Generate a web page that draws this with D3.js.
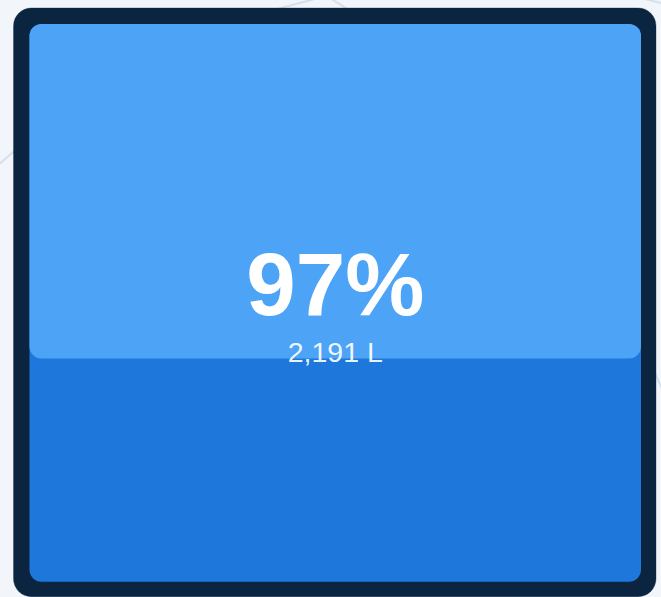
<!DOCTYPE html>
<html>
<head>
<meta charset="utf-8">
<script src="https://cdn.jsdelivr.net/npm/d3@7"></script>
<style>
  html, body { margin: 0; padding: 0; background: #f2f5fa; }
  svg { display: block; }
</style>
</head>
<body>
<script>
  var w = 661;
  var h = 597;

  // values
  var percentValues = [97];
  var volumeValues = [2191];
  var unitLabels = ["L"];
  var levelValues = [0.4];   // share of the tank drawn in the darker colour

  var tank = { left: 13.5, top: 8, right: 656, bottom: 596.7, border: 16 };

  var svg = d3.select("body")
    .append("svg")
    .attr("width", w)
    .attr("height", h);

  // faint background arcs
  var arcs = svg.append("g")
    .attr("fill", "none")
    .attr("stroke", "#d5e0ee")
    .attr("stroke-width", 2);
  arcs.append("circle").attr("cx", 480).attr("cy", 700).attr("r", 720);
  arcs.append("circle").attr("cx", -100).attr("cy", 700).attr("r", 823);

  // tank frame
  svg.append("rect")
    .attr("x", tank.left)
    .attr("y", tank.top)
    .attr("width", tank.right - tank.left)
    .attr("height", tank.bottom - tank.top)
    .attr("rx", 18)
    .attr("fill", "#0b2540")
    .attr("stroke", "rgba(11,37,64,0.35)")
    .attr("stroke-width", 1);

  var inner = {
    left: tank.left + tank.border,
    top: tank.top + tank.border,
    right: tank.right - tank.border + 1,
    bottom: tank.bottom - tank.border + 1
  };

  var yScale = d3.scaleLinear()
    .domain([0, 1])
    .range([inner.bottom, inner.top]);

  // liquid
  svg.append("rect")
    .attr("x", inner.left)
    .attr("y", inner.top)
    .attr("width", inner.right - inner.left)
    .attr("height", inner.bottom - inner.top)
    .attr("rx", 12)
    .attr("fill", "#1e78dc");

  // upper part
  svg.selectAll("rect.upper")
    .data(levelValues)
    .enter()
    .append("rect")
    .attr("class", "upper")
    .attr("x", inner.left)
    .attr("y", yScale(1))
    .attr("width", inner.right - inner.left)
    .attr("height", function (d) { return yScale(d) - yScale(1); })
    .attr("rx", 12)
    .attr("fill", "#4da3f6");

  var cx = (inner.left + inner.right) / 2;

  svg.selectAll("text.pct")
    .data(percentValues)
    .enter()
    .append("text")
    .attr("class", "pct")
    .attr("x", cx)
    .attr("y", 315)
    .attr("text-anchor", "middle")
    .attr("fill", "#ffffff")
    .attr("font-family", "Liberation Sans, Arial, sans-serif")
    .attr("font-weight", "bold")
    .attr("font-size", 89)
    .text(function (d) { return d + "%"; });

  svg.selectAll("text.vol")
    .data(volumeValues)
    .enter()
    .append("text")
    .attr("class", "vol")
    .attr("x", cx)
    .attr("y", 362)
    .attr("text-anchor", "middle")
    .attr("fill", "#ffffff")
    .attr("fill-opacity", 0.92)
    .attr("font-family", "Liberation Sans, Arial, sans-serif")
    .attr("font-size", 28.5)
    .text(function (d, i) { return d3.format(",")(d) + " " + unitLabels[i]; });
</script>
</body>
</html>
